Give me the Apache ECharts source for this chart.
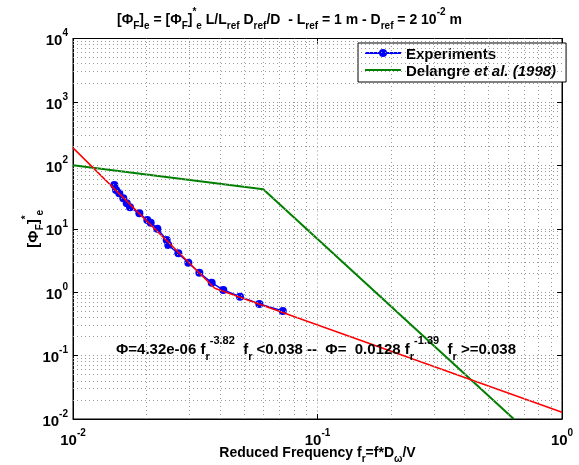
<!DOCTYPE html>
<html><head><meta charset="utf-8">
<script src="https://cdn.jsdelivr.net/npm/echarts@6/dist/echarts.min.js"></script>
<style>html,body{margin:0;padding:0;background:#fff}#c{width:579px;height:465px}</style>
</head><body><div id="c"></div>
<script>
// Experiments
const expF = [0.01476,0.0150,0.01546,0.01606,0.01659,0.01711,0.01868,0.02013,0.02079,0.02213,0.02416,0.02453,0.02697,0.02963,0.03287,0.03692,0.04120,0.04819,0.05781,0.0721];
const expPhi = [48.9,40.8,36.2,30.2,25.2,21.8,17.5,13.7,12.4,10.0,6.63,5.53,4.09,2.91,2.02,1.41,1.08,0.846,0.649,0.503];
// Fit (red)
const fitF = [0.01,0.038,0.038,1];
const fitPhi = [188.6,1.15,1.206,0.0128];
// Delangre et al. (1998) (green)
const delF = [0.01,0.06,0.635];
const delPhi = [100,42,0.01];
// minor grid values
const minorX = [0.02,0.03,0.04,0.05,0.06,0.07,0.08,0.09,0.2,0.3,0.4,0.5,0.6,0.7,0.8,0.9];
const minorY = [0.02,0.03,0.04,0.05,0.06,0.07,0.08,0.09,0.2,0.3,0.4,0.5,0.6,0.7,0.8,0.9,
  2,3,4,5,6,7,8,9,20,30,40,50,60,70,80,90,200,300,400,500,600,700,800,900,2000,3000,4000,5000,6000,7000,8000,9000];

const FONT = 'Liberation Sans, Arial, sans-serif';
const zip = (a,b)=>a.map((v,i)=>[v,b[i]]);
function mkRich(fs, ss, lh, subDrop){
  return {
    b:{fontFamily:FONT,fontWeight:'bold',fontSize:fs,color:'#000',lineHeight:lh,verticalAlign:'bottom'},
    i:{fontFamily:FONT,fontWeight:'bold',fontStyle:'italic',fontSize:fs,color:'#000',lineHeight:lh,verticalAlign:'bottom'},
    sup:{fontFamily:FONT,fontWeight:'bold',fontSize:ss,color:'#000',lineHeight:lh,verticalAlign:'top'},
    sub:{fontFamily:FONT,fontWeight:'bold',fontSize:ss,color:'#000',lineHeight:lh,verticalAlign:'bottom',padding:[0,0,-subDrop,0]}
  };
}
const richTitle = mkRich(14,10,20,4);
const richTick = mkRich(15,10,20,4);
const richLegend = mkRich(15,11,18,4);
const richNote = mkRich(15,11,22,5);
const powLabel = v => { const e = Math.round(Math.log10(v)); return '{b|10}{sup|' + e + '}'; };

const chart = echarts.init(document.getElementById('c'), null, {renderer:'canvas'});
const gridLine = {color:'#999',type:[1,3],width:1};
const option = {
  animation:false,
  backgroundColor:'#fff',
  title:{
    text:'{b|[Φ}{sub|F}{b|]}{sub|e}{b| = [Φ}{sub|F}{b|]}{sup|*}{sub|e}{b| L/L}{sub|ref}{b| D}{sub|ref}{b|/D  - L}{sub|ref}{b| = 1 m - D}{sub|ref}{b| = 2 10}{sup|-2}{b| m}',
    left:'center', top:2,
    textStyle:{rich:richTitle}
  },
  grid:{left:73,right:17,top:38.5,bottom:46,show:true,borderColor:'#000',borderWidth:1,containLabel:false,outerBoundsMode:'none'},
  legend:{
    orient:'vertical', left:358, top:43,
    backgroundColor:'#fff', borderColor:'#000', borderWidth:1,
    padding:[4,10,3,6], itemGap:2, itemWidth:36, itemHeight:10,
    data:[{name:'Experiments'},{name:'Delangre', itemStyle:{opacity:0}}],
    formatter: n => n==='Experiments' ? '{b|Experiments}' : '{b|Delangre }{i|et al. (1998)}',
    textStyle:{rich:richLegend}
  },
  xAxis:[{
    type:'log', logBase:10, min:0.01, max:1,
    name:'{b|Reduced Frequency f}{sub|r}{b|=f*D}{sub|ω}{b|/V}', nameLocation:'middle', nameGap:21,
    nameMoveOverlap:false,
    nameTextStyle:{rich:richTitle},
    axisLine:{show:true,lineStyle:{color:'#000'}},
    axisTick:{show:true,inside:true,length:5,lineStyle:{color:'#000'}},
    axisLabel:{formatter:powLabel, rich:richTick, margin:9},
    splitLine:{show:true,lineStyle:gridLine}
  },{
    type:'log', logBase:10, min:0.01, max:1, position:'top',
    axisLine:{show:true,lineStyle:{color:'#000'}},
    axisTick:{show:true,inside:true,length:5,lineStyle:{color:'#000'}},
    axisLabel:{show:false}, splitLine:{show:false}
  }],
  yAxis:[{
    type:'log', logBase:10, min:0.01, max:10000,
    name:'{b|[Φ}{sub|F}{b|]}{sup|*}{sub|e}', nameLocation:'middle', nameGap:32, nameRotate:90,
    nameMoveOverlap:false,
    nameTextStyle:{rich:mkRich(15,10,20,4)},
    axisLine:{show:true,lineStyle:{color:'#000'}},
    axisTick:{show:true,inside:true,length:5,lineStyle:{color:'#000'}},
    axisLabel:{formatter:powLabel, rich:richTick, margin:5},
    splitLine:{show:true,lineStyle:gridLine}
  },{
    type:'log', logBase:10, min:0.01, max:10000, position:'right',
    axisLine:{show:true,lineStyle:{color:'#000'}},
    axisTick:{show:true,inside:true,length:5,lineStyle:{color:'#000'}},
    axisLabel:{show:false}, splitLine:{show:false}
  }],
  graphic:[{
    type:'text', left:116, top:335, z:100,
    style:{
      text:'{b|Φ=4.32e-06 f}{sub|r}{sup|-3.82}{b|  f}{sub|r}{b| <0.038 --  Φ=  0.0128 f}{sub|r}{sup|-1.39}{b|  f}{sub|r}{b| >=0.038}',
      rich:richNote
    }
  }],
  series:[
    {name:'minor', type:'line', data:[], silent:true,
     markLine:{silent:true, symbol:['none','none'], label:{show:false}, animation:false,
       lineStyle:gridLine,
       data: minorX.map(v=>({xAxis:v})).concat(minorY.map(v=>({yAxis:v})))}},
    {name:'Delangre', type:'line', data:zip(delF,delPhi), showSymbol:false, symbol:'none',
     lineStyle:{color:'#008000',width:2}, itemStyle:{color:'#008000'}, z:3},
    {name:'fit', type:'line', data:zip(fitF,fitPhi), showSymbol:false, symbol:'none',
     lineStyle:{color:'#ff0000',width:1.5}, itemStyle:{color:'#ff0000'}, z:4},
    {name:'Experiments', type:'line', data:zip(expF,expPhi), symbol:'circle', symbolSize:8,
     lineStyle:{color:'#0000ff',width:1.5}, itemStyle:{color:'#0000ff'}, z:3}
  ]
};
chart.setOption(option);
</script></body></html>
